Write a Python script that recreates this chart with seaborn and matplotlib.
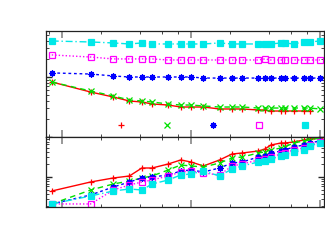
import numpy as np
import pandas as pd
import matplotlib
matplotlib.use("Agg")
import matplotlib.pyplot as plt
from matplotlib.lines import Line2D
from matplotlib.ticker import LogLocator, FixedLocator, NullFormatter
import seaborn as sns

# x values (log scale), shared by both panels
sizes = [1, 2, 3, 4, 5, 6, 8, 10, 12, 15, 20, 25, 30, 40, 45, 50, 60, 64, 75, 90, 100, 120]

# top panel (log y)
top_red = [8.25, 5.62, 4.64, 3.98, 3.83, 3.55, 3.41, 3.16, 3.16, 3.16, 2.93, 2.93, 2.93,
           2.82, 2.82, 2.71, 2.71, 2.71, 2.71, 2.71, 2.71, np.nan]
top_green = [8.25, 5.84, 4.83, 4.14, 3.98, 3.83, 3.55, 3.41, 3.41, 3.29, 3.16, 3.16, 3.16,
             3.04, 3.04, 3.04, 3.04, 3.04, 3.04, 3.04, 3.04, 2.93]
top_blue = [11.7, 11.2, 10.4, 10.0, 10.0, 10.0, 10.0, 10.0, 10.0, 9.6, 9.6, 9.6, 9.6,
            9.6, 9.6, 9.6, 9.6, 9.6, 9.6, 9.6, 9.6, 9.6]
top_magenta = [23.3, 21.5, 20.0, 20.0, 20.0, 20.0, 19.2, 19.2, 19.2, 19.2, 19.2, 19.2, 19.2,
               19.2, 20.0, 19.2, 19.2, 19.2, 19.2, 19.2, 19.2, 19.2]
top_cyan = [39.8, 38.3, 36.9, 35.5, 36.9, 35.5, 35.5, 35.5, 35.5, 35.5, 36.9, 35.5, 35.5,
            35.5, 35.5, 35.5, 36.9, 36.9, 35.5, 38.3, 38.3, 39.8]

# bottom panel (log y)
bot_red = [0.464, 0.760, 0.947, 1.056, 1.638, 1.638, 2.04, 2.54, 2.28, 1.83, 2.54, 3.53, 3.73,
           4.16, 4.64, 5.78, 6.45, 6.45, 6.81, 7.60, 8.03, 8.48]
bot_green = [0.228, 0.490, 0.681, 0.803, 0.947, 1.056, 1.468, 1.93, 1.83, 1.73, 2.15, 2.83, 2.99,
             3.73, 3.94, 4.39, 4.90, 5.18, 6.45, 7.20, 7.60, 8.48]
bot_blue = [0.228, 0.373, 0.578, 0.760, 0.947, 1.0, 1.116, 1.39, 1.468, 1.315, 1.638, 2.15, 2.28,
            2.99, 3.16, 3.73, 4.16, 4.39, 5.18, 5.78, 6.45, 7.20]
bot_magenta = [0.228, 0.228, 0.490, 0.645, 0.760, 0.848, 1.056, 1.315, 1.39, 1.245, 1.116, 1.83, 2.04,
               2.54, 2.68, 2.99, 3.53, 3.73, 4.39, 4.90, 5.78, 6.81]
bot_cyan = [0.228, 0.353, 0.464, 0.518, 0.490, 0.681, 0.848, 1.116, 1.179, 1.39, 1.056, 1.55, 1.83,
            2.28, 2.40, 2.68, 3.16, 3.34, 3.94, 4.39, 5.47, 6.45]

x_major = [1.2, 12, 120]
x_minor = [0.96, 2.4, 4.8, 7.2, 9.6, 24, 48, 72, 96]

# gnuplot-like styles: colour, marker, dashes
styles = {
    'red': dict(color='#ff0000', marker='+', ls='-', mfc='#ff0000'),
    'green': dict(color='#00e000', marker='x', ls=(0, (4, 3)), mfc='#00e000'),
    'blue': dict(color='#0000ff', marker=(8, 2, 0), ls=(0, (2, 2)), mfc='#0000ff'),
    'magenta': dict(color='#ff00ff', marker='s', ls=(0, (1, 1.5)), mfc='none'),
    'cyan': dict(color='#00e8e8', marker='s', ls=(0, (5, 2, 1, 2)), mfc='#00e8e8'),
}

top = {'red': top_red, 'green': top_green, 'blue': top_blue,
       'magenta': top_magenta, 'cyan': top_cyan}
bot = {'red': bot_red, 'green': bot_green, 'blue': bot_blue,
       'magenta': bot_magenta, 'cyan': bot_cyan}

sns.set_style("white")
fig = plt.figure(figsize=(3.25, 2.5), dpi=100)
ax1 = fig.add_axes([0.1415, 0.452, 0.855, 0.426])
ax2 = fig.add_axes([0.1415, 0.172, 0.855, 0.280])


def draw(ax, series):
    ax.set_xscale('log')
    ax.set_yscale('log')
    for name, vals in series.items():
        st = styles[name]
        df = pd.DataFrame({'x': sizes, 'y': vals}).dropna()
        sns.lineplot(data=df, x='x', y='y', ax=ax, color=st['color'], linestyle=st['ls'],
                     marker=st['marker'], markersize=4.5, markerfacecolor=st['mfc'],
                     markeredgecolor=st['color'], markeredgewidth=0.9, linewidth=1.0)


draw(ax1, top)
draw(ax2, bot)

ax1.set_ylim(1, 59.5)
ax2.set_ylim(0.193, 8.96)

for ax in (ax1, ax2):
    ax.set_xlim(0.902, 128.9)
    ax.xaxis.set_major_locator(FixedLocator(x_major))
    ax.xaxis.set_minor_locator(FixedLocator(x_minor))
    ax.yaxis.set_major_locator(LogLocator(base=10))
    ax.yaxis.set_minor_locator(LogLocator(base=10, subs=np.arange(2, 10)))
    ax.xaxis.set_major_formatter(NullFormatter())
    ax.xaxis.set_minor_formatter(NullFormatter())
    ax.yaxis.set_major_formatter(NullFormatter())
    ax.yaxis.set_minor_formatter(NullFormatter())
    ax.tick_params(which='both', direction='in', top=True, right=True, bottom=True, left=True)
    ax.tick_params(which='major', length=4, width=1.0)
    ax.tick_params(axis='x', which='major', color='#999999', width=1.4, length=5)
    ax.tick_params(which='minor', length=2.5, width=0.6)
    ax.set_xlabel('')
    ax.set_ylabel('')
    for sp in ax.spines.values():
        sp.set_color('#222222')
        sp.set_linewidth(0.9)

# key with point samples only (no titles)
handles = [Line2D([], [], linestyle='none', marker=styles[n]['marker'], color=styles[n]['color'],
                  markerfacecolor=styles[n]['mfc'], markeredgecolor=styles[n]['color'],
                  markersize=4.5, markeredgewidth=0.9) for n in top]
ax1.legend(handles, [''] * 5, ncol=5, frameon=False, loc='center',
           bbox_to_anchor=(0.6007, 0.104), fontsize=8, handlelength=1.0,
           handletextpad=0.0, columnspacing=3.14, borderpad=0.0)

fig.savefig('out.png', dpi=100)
